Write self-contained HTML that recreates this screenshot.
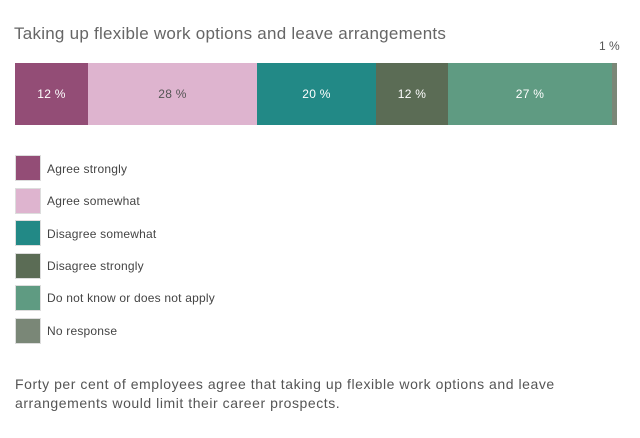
<!DOCTYPE html>
<html><head><style>
body{margin:0;width:640px;height:438px;background:#fff;font-family:"Liberation Sans",sans-serif;position:relative;overflow:hidden}
.a{position:absolute}
.s{position:absolute;top:63px;height:62px;color:#fff;font-size:12px;display:flex;align-items:center;justify-content:center;letter-spacing:0.3px}
.sw{position:absolute;left:15px;width:26px;height:26px;border:1px solid #ddd;box-sizing:border-box}
.lt{position:absolute;left:47px;font-size:12px;color:#444;letter-spacing:0.2px}
</style></head><body>
<div class="a" style="left:14px;top:24px;font-size:17px;color:#666;letter-spacing:0.25px">Taking up flexible work options and leave arrangements</div>
<div class="a" style="left:599px;top:39px;font-size:12px;color:#555">1 %</div>
<div class="s" style="left:15px;width:73px;background:#934d76">12 %</div>
<div class="s" style="left:88px;width:169px;background:#deb4cf;color:#555">28 %</div>
<div class="s" style="left:257px;width:119px;background:#228986">20 %</div>
<div class="s" style="left:376px;width:72px;background:#5b6c55">12 %</div>
<div class="s" style="left:448px;width:164px;background:#5f9b82">27 %</div>
<div class="s" style="left:612px;width:5px;background:#7a8777"></div>
<div class="sw" style="top:155px;background:#934d76"></div><div class="lt" style="top:162px">Agree strongly</div>
<div class="sw" style="top:188px;background:#deb4cf"></div><div class="lt" style="top:194px">Agree somewhat</div>
<div class="sw" style="top:220px;background:#228986"></div><div class="lt" style="top:227px">Disagree somewhat</div>
<div class="sw" style="top:253px;background:#5b6c55"></div><div class="lt" style="top:259px">Disagree strongly</div>
<div class="sw" style="top:285px;background:#5f9b82"></div><div class="lt" style="top:291px">Do not know or does not apply</div>
<div class="sw" style="top:318px;background:#7a8777"></div><div class="lt" style="top:324px">No response</div>
<div class="a" style="left:15px;top:375px;font-size:14px;line-height:19px;color:#555;letter-spacing:0.55px">Forty per cent of employees agree that taking up flexible work options and leave<br>arrangements would limit their career prospects.</div>
</body></html>
